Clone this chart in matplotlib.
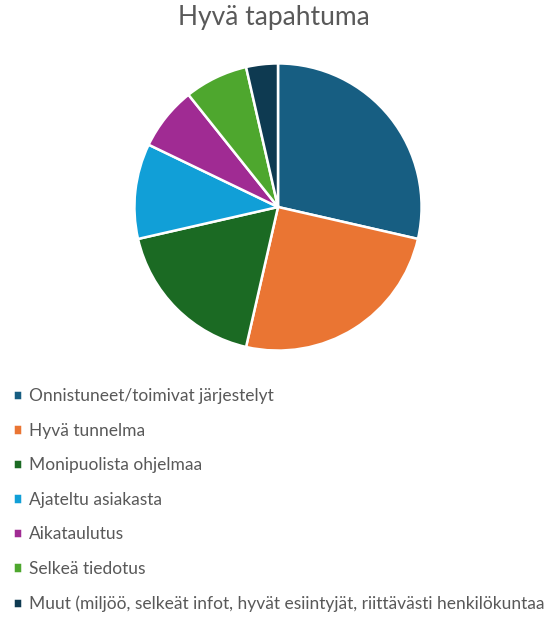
import matplotlib.pyplot as plt

# Data
labels = [
    "Onnistuneet/toimivat järjestelyt",
    "Hyvä tunnelma",
    "Monipuolista ohjelmaa",
    "Ajateltu asiakasta",
    "Aikataulutus",
    "Selkeä tiedotus",
    "Muut (miljöö, selkeät infot, hyvät esiintyjät, riittävästi henkilökuntaa",
]
counts = [8, 7, 5, 3, 2, 2, 1]
colors = ["#175E82", "#EA7533", "#1B6A23", "#119FD7", "#A02B93", "#4EA72E", "#0E3A51"]

plt.rcParams['font.family'] = ['Lato', 'DejaVu Sans']

fig = plt.figure(figsize=(5.47, 6.17), dpi=100)

# Title
fig.text(0.5, 1 - 18 / 617, "Hyvä tapahtuma", ha='center', va='center',
         fontsize=19, color='#595959')

# Pie
ax = fig.add_axes([133 / 547, 1 - 352 / 617, 290 / 547, 290 / 617])
wedges, _ = ax.pie(counts, colors=colors, startangle=90, counterclock=False,
                   radius=1, wedgeprops=dict(edgecolor='white', linewidth=1.8))
ax.set_xlim(-1.01, 1.01)
ax.set_ylim(-1.01, 1.01)
ax.set_aspect('equal')
ax.axis('off')

# Legend
fig.legend(wedges, labels, loc='upper left', bbox_to_anchor=(6 / 547, 1 - 381 / 617),
           frameon=False, fontsize=12.5, labelcolor='#595959',
           handlelength=0.55, handleheight=0.55, handletextpad=0.4,
           labelspacing=1.07, borderaxespad=0)

fig.savefig("out.png", dpi=100)
